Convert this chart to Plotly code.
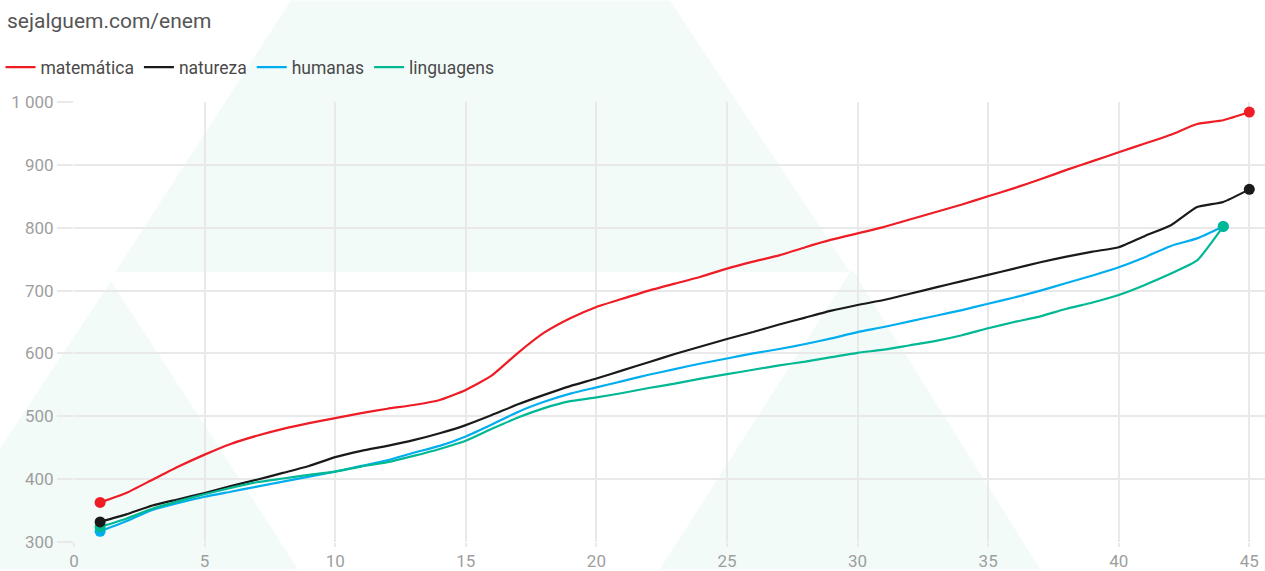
import plotly.graph_objects as go

# ---- data ----
x_full = list(range(1, 46))
x_short = list(range(1, 45))

matematica = [363, 378, 399, 420, 439, 456, 469, 480, 489, 497, 505, 512, 518, 526, 542,
              565, 601, 633, 656, 674, 687, 700, 711, 722, 735, 746, 756, 769, 781, 791,
              801, 813, 825, 837, 850, 863, 877, 892, 906, 920, 934, 948, 965, 971, 984]
natureza = [332, 344, 358, 368, 378, 389, 399, 410, 421, 435, 445, 453, 462, 473, 486,
            502, 519, 534, 548, 560, 573, 586, 599, 611, 623, 634, 646, 657, 668, 677,
            685, 695, 705, 715, 725, 735, 745, 754, 762, 769, 787, 804, 833, 841, 861]
humanas = [317, 333, 351, 362, 372, 380, 388, 396, 404, 412, 421, 430, 442, 453, 468,
           487, 507, 523, 536, 546, 556, 566, 575, 584, 592, 600, 607, 615, 624, 634,
           642, 651, 660, 669, 679, 689, 700, 712, 724, 737, 753, 771, 783, 802]
linguagens = [324, 337, 353, 365, 376, 386, 395, 401, 407, 412, 420, 427, 437, 448, 461,
              480, 498, 513, 524, 530, 537, 545, 552, 560, 567, 574, 581, 587, 594, 601,
              606, 613, 620, 629, 640, 650, 659, 671, 681, 693, 709, 727, 748, 802]

series_names = ["matemática", "natureza", "humanas", "linguagens"]
series_x = [x_full, x_full, x_short, x_short]
series_y = [matematica, natureza, humanas, linguagens]
colors = ["#ee1c24", "#1a1a1a", "#00aeef", "#00b894"]

x_ticks = [0, 5, 10, 15, 20, 25, 30, 35, 40, 45]
y_ticks = [300, 400, 500, 600, 700, 800, 900, 1000]

# ---- layout geometry (pixels) ----
W, H = 1265, 571
ML, MR, MT, MB = 74, 0, 102, 27
PW, PH = W - ML - MR, H - MT - MB


def px(xp):
    return (xp - ML) / PW


def py(yp):
    return (H - MB - yp) / PH


def poly(points):
    d = "M " + " L ".join(f"{px(a):.5f},{py(b):.5f}" for a, b in points) + " Z"
    return d


fig = go.Figure()

for name, xs, ys, c in zip(series_names, series_x, series_y, colors):
    fig.add_trace(go.Scatter(x=xs, y=ys, mode="lines", name=name,
                             line=dict(color=c, width=2.2, shape="spline", smoothing=0.5),
                             legendgroup=name, hoverinfo="skip"))

# endpoint markers
for idx in [2, 3, 1, 0]:
    xs, ys, c, name = series_x[idx], series_y[idx], colors[idx], series_names[idx]
    fig.add_trace(go.Scatter(x=[xs[0], xs[-1]], y=[ys[0], ys[-1]], mode="markers",
                             marker=dict(color=c, size=11), showlegend=False,
                             legendgroup=name, hoverinfo="skip"))

wm = "rgba(0,170,120,0.05)"
shapes = [
    dict(type="path", path=poly([(291, 0), (670, 0), (850, 273), (115, 273)])),
    dict(type="path", path=poly([(111, 282), (298, 571), (-80, 571)])),
    dict(type="path", path=poly([(852, 270), (1040, 571), (660, 571)])),
]
for s in shapes:
    s.update(xref="paper", yref="paper", layer="below", fillcolor=wm,
             line=dict(width=0))

fig.update_layout(
    width=W, height=H,
    margin=dict(l=ML, r=MR, t=MT, b=MB, pad=0),
    paper_bgcolor="white",
    plot_bgcolor="rgba(0,0,0,0)",
    separators=", ",
    font=dict(family="Roboto", size=17, color="#9e9e9e"),
    title=dict(text="sejalguem.com/enem", x=7 / W, xref="container", xanchor="left",
               y=1 - 21 / H, yref="container", yanchor="middle",
               font=dict(family="Roboto", size=21, color="#555555")),
    showlegend=True,
    legend=dict(orientation="h", x=px(0.5), xanchor="left", y=py(67), yanchor="middle",
                font=dict(family="Roboto", size=17.5, color="#4a4a4a"),
                itemwidth=30, bgcolor="rgba(0,0,0,0)", tracegroupgap=0),
    shapes=shapes,
    xaxis=dict(range=[0, 45.6], tickvals=x_ticks, showgrid=True, gridcolor="#e9e9e9",
               gridwidth=1.5, zeroline=False, showline=False, ticks="outside",
               ticklen=4, tickcolor="#e9e9e9", tickwidth=1.5,
               tickfont=dict(family="Roboto", size=17, color="#9e9e9e")),
    yaxis=dict(range=[300, 1000], tickvals=y_ticks, tickformat=",d", showgrid=True,
               gridcolor="#e9e9e9", gridwidth=1.5, zeroline=False, showline=False,
               ticks="outside", ticklen=16, tickcolor="#e9e9e9", tickwidth=1.5,
               tickfont=dict(family="Roboto", size=17, color="#9e9e9e")),
)

fig.write_html("out.html", config={"displayModeBar": False},
               post_script="document.body.style.margin='0px';")
